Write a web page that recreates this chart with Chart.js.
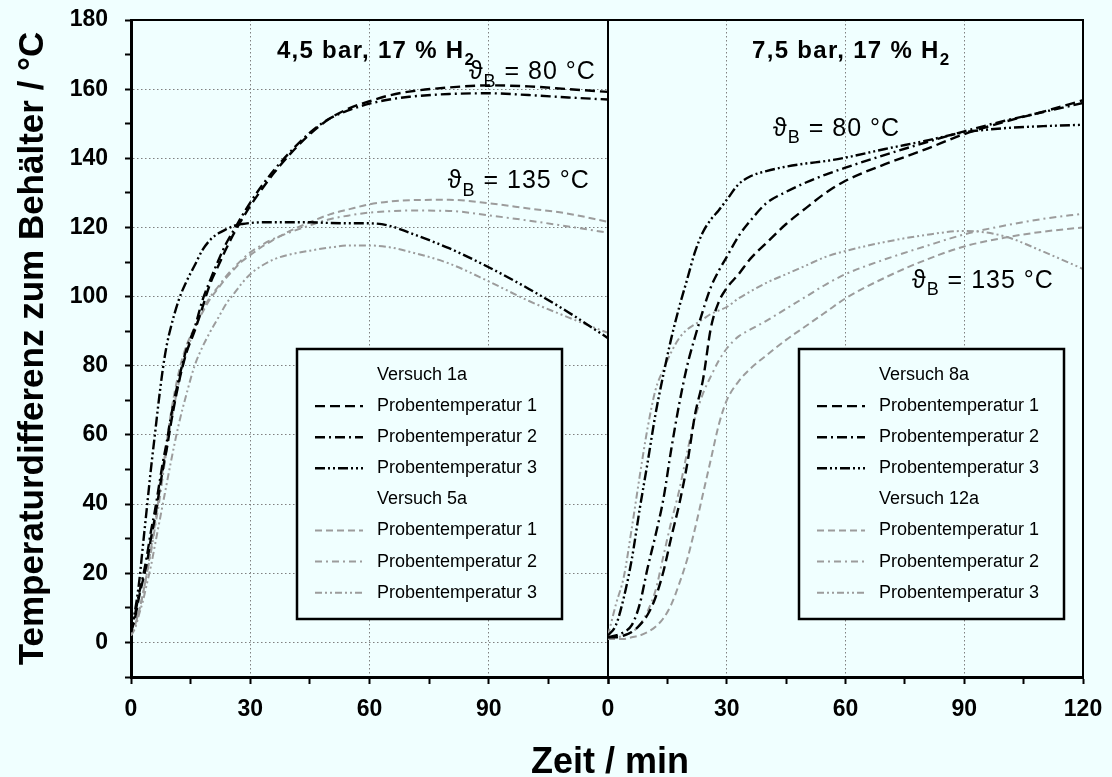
<!DOCTYPE html>
<html>
<head>
<meta charset="utf-8">
<script src="https://cdn.jsdelivr.net/npm/chart.js@4.4.0/dist/chart.umd.min.js"></script>
<style>
  html, body { margin: 0; padding: 0; background: #f0ffff; }
  body { width: 1112px; height: 777px; position: relative; overflow: hidden; }
  #cl { position: absolute; left: 0; top: 0; }
  #cr { position: absolute; left: 590px; top: 0; }
  #xt { position: absolute; left: 410px; top: 740px; width: 400px; text-align: center;
        font: bold 36px "Liberation Sans", Arial, sans-serif; line-height: 42px; color: #000; }
</style>
</head>
<body>
<canvas id="cl" width="614" height="777"></canvas>
<canvas id="cr" width="522" height="777"></canvas>
<div id="xt">Zeit / min</div>
<script>
// Zeit in min, Werte in °C (Temperaturdifferenz zum Behälter)
const zeitL = [0,1,2,3,4,5,6,7,8,9,10,12,14,16,18,20,22,24,26,28,30,33,36,40,45,50,55,60,65,70,80,90,100,110,120]
const v1aP1 = [3,7,13,18,23,30,36,43,50,56,63,75,84,90,97,104,109,114,118.5,122.5,126.2,131.2,135.8,141.2,147,151.5,154.5,156.5,158.2,159.3,160.5,161.1,160.8,160,159.2]
const v1aP2 = [3,8,14,19,25,32,38,45,52,58,65,76,85,91,99,105,110.5,115.5,119.5,123.5,127.2,132.2,136.6,141.8,147.4,151.5,154,155.8,157,157.8,158.6,158.8,158.3,157.6,157]
const v1aP3 = [3,9,17,28,39,50,60,70,79,86,91,99,104.5,109,113.5,116.5,118.3,119.5,120.5,121,121.3,121.5,121.5,121.5,121.5,121.3,121.2,121.2,120.5,118.5,114,108.5,102.3,95.5,88]
const v5aP1 = [2,5,9,14,20,27,34,42,50,58,66,78,86,91,95.5,99.5,102.5,105.5,108,110.3,112,114.5,116.5,119,121.5,123.8,125.3,126.7,127.5,127.9,128,127,125.5,124,121.6]
const v5aP2 = [2,5,9,14,20,26,33,40,48,56,63,75,84,90.5,96,100,103,106,108.5,110.8,112.8,115,116.8,118.6,120.6,122.4,123.5,124.3,124.7,124.9,124.8,123.5,122,120.3,118.5]
const v5aP3 = [2,4,8,12,17,22,28,34,40,46,52,63,72,80,85.5,90,94,98,101,104,106.5,109,110.8,112.2,113.3,114.2,114.8,114.8,114.3,113,109.6,104.4,98.8,94,89.5]

const zeitR  = [0,2,4,6,8,10,12,14,16,18,20,22,24,26,28,30,33,36,40,45,50,55,60,70,80,90,100,110,120]
const v8aP1  = [1.5,1.5,2,3,5,8,13,20.5,30.5,40,51.5,66,76,91,98.5,102.5,106.5,111,115.5,121,125.6,130,133.5,138.3,142.5,147,150.5,153.5,156.8]
const v8aP2  = [1.5,2,3,5,11,21.5,31,41.5,56,69,80,88.4,96,102.8,107.5,111.5,117.5,122,127,130.3,133,135.3,137.3,141,144.5,147.8,150.8,153.4,156]
const v8aP3  = [2,5,13,24,38.5,52,66,77.5,88,97,105,113,118.7,122.3,125,128,132.5,134.8,136.3,137.6,138.5,139.2,140.2,142.7,145,147.5,148.7,149.3,149.7]
const v12aP1 = [1,1,1,1.5,2,3,4.5,7,11,17,24,33,43,53,63,70,75.5,79.2,83,87.5,91.5,95.5,99.5,105.5,110.5,114.5,117,118.8,120]
const v12aP2 = [1.5,1.5,2,3,5,9,15,25,35,44,55,65,72,77,81.5,85,88.5,90.5,93,96.5,100,103.5,106.5,110.8,114.5,118,120.5,122.5,124]
const v12aP3 = [2,11,19,33,48,62,73,79,84,88,90.5,92,93.5,95,96,97,99.5,101.5,104,106.5,109,111.5,113.2,115.8,117.8,119,117.5,113,108]

const probeLabels = ['Probentemperatur 1', 'Probentemperatur 2', 'Probentemperatur 3']
const yTicks = { min: -10, max: 180, step: 10, labelStep: 20 }
const xTicks = { min: 0, max: 120, step: 15, labelStep: 30 }

const FONT  = '"Liberation Sans", Arial, Helvetica, sans-serif'
const BG    = '#f0ffff'
const GRIDC = '#808080'
const BLACK = '#000000'
const GRAY  = '#9c9c9c'
const DASH  = [[10, 5], [10, 4, 2, 4], [10, 3, 2, 3, 2, 3]]
const GDASH = [[7, 4], [7, 4, 2, 4], [7, 3, 2, 3, 2, 3]]

function series(label, t, v, gray, k) {
  return {
    label,
    data: t.map((x, i) => ({ x, y: v[i] })),
    borderColor: gray ? GRAY : BLACK,
    borderWidth: gray ? 2 : 2.4,
    borderDash: gray ? GDASH[k] : DASH[k],
    pointRadius: 0,
    fill: false,
    cubicInterpolationMode: 'monotone',
  }
}

// rahmen oben + rechts (links/unten kommen von den Achsen)
const framePlugin = {
  id: 'frame',
  afterDatasetsDraw(chart) {
    const { ctx, chartArea: a } = chart
    ctx.save()
    ctx.strokeStyle = BLACK
    ctx.lineWidth = 2
    ctx.beginPath()
    ctx.moveTo(a.left, a.top)
    ctx.lineTo(a.right, a.top)
    ctx.lineTo(a.right, a.bottom + 1)
    ctx.stroke()
    ctx.restore()
  },
}

function drawRich(ctx, x, y, runs, size, bold, ls) {
  let cx = x
  ctx.letterSpacing = (ls || 0) + 'px'
  for (const r of runs) {
    const fs = r.sub ? Math.round(size * 0.72) : size
    ctx.font = (bold ? 'bold ' : '') + fs + 'px ' + FONT
    ctx.fillText(r.t, cx, y + (r.sub ? size * 0.3 : 0))
    cx += ctx.measureText(r.t).width
  }
  ctx.letterSpacing = '0px'
}

function notesPlugin(items) {
  return {
    id: 'notes',
    afterDraw(chart) {
      const { ctx, scales } = chart
      ctx.save()
      ctx.fillStyle = BLACK
      ctx.textBaseline = 'alphabetic'
      ctx.textAlign = 'left'
      for (const n of items) {
        drawRich(ctx, scales.x.getPixelForValue(n.x), scales.y.getPixelForValue(n.y), n.runs, n.size, n.bold, n.ls)
      }
      ctx.restore()
    },
  }
}

function legendPlugin(box) {
  return {
    id: 'boxlegend',
    afterDraw(chart) {
      const { ctx, chartArea: a } = chart
      const x0 = a.left + box.dx, y0 = a.top + box.dy
      ctx.save()
      ctx.fillStyle = BG
      ctx.fillRect(x0, y0, box.w, box.h)
      ctx.strokeStyle = BLACK
      ctx.lineWidth = 2.5
      ctx.strokeRect(x0, y0, box.w, box.h)
      ctx.font = '18px ' + FONT
      ctx.textBaseline = 'middle'
      ctx.fillStyle = BLACK
      let row = 0
      for (const g of box.groups) {
        ctx.fillText(g.title, x0 + 80, y0 + 26 + row * 31.1)
        row++
        for (const idx of g.sets) {
          const ds = chart.data.datasets[idx]
          const yy = y0 + 26 + row * 31.1
          ctx.save()
          ctx.strokeStyle = ds.borderColor
          ctx.lineWidth = ds.borderWidth
          ctx.setLineDash(ds.borderDash)
          ctx.beginPath()
          ctx.moveTo(x0 + 18, yy)
          ctx.lineTo(x0 + 66, yy)
          ctx.stroke()
          ctx.restore()
          ctx.fillText(ds.label, x0 + 80, yy)
          row++
        }
      }
      ctx.restore()
    },
  }
}

function gridColor(step, lo, hi) {
  return c => {
    const v = c.tick ? c.tick.value : NaN
    return (v % step === 0 && v > lo && v < hi) ? GRIDC : 'rgba(0,0,0,0)'
  }
}

function makeOptions(isLeft, xLabels) {
  return {
    responsive: false,
    animation: false,
    layout: { padding: isLeft ? { left: 0, right: 6, top: 20, bottom: 40 } : { left: 18, right: 29, top: 20, bottom: 40 } },
    plugins: { legend: { display: false }, tooltip: { enabled: false } },
    scales: {
      x: {
        type: 'linear',
        min: xTicks.min, max: xTicks.max,
        afterFit: s => { s.height = 60; s.paddingLeft = 0; s.paddingRight = 0 },
        afterBuildTicks: s => {
          s.ticks = []
          for (let v = xTicks.min; v <= xTicks.max; v += xTicks.step) s.ticks.push({ value: v })
        },
        ticks: {
          autoSkip: false, maxRotation: 0, padding: 12, color: BLACK,
          font: { family: FONT, size: 23, weight: 'bold' },
          callback: v => xLabels(v),
        },
        grid: { color: gridColor(xTicks.labelStep, xTicks.min, xTicks.max), lineWidth: 1, tickLength: 7, tickColor: BLACK, tickWidth: 2 },
        border: { display: true, color: BLACK, width: 3, dash: [1.5, 2.5] },
      },
      y: {
        type: 'linear',
        display: isLeft,
        min: yTicks.min, max: yTicks.max,
        afterFit: s => { s.width = isLeft ? 131 : 0; s.paddingTop = 0; s.paddingBottom = 0 },
        afterBuildTicks: s => {
          s.ticks = []
          for (let v = yTicks.min; v <= yTicks.max; v += yTicks.step) s.ticks.push({ value: v })
        },
        ticks: {
          autoSkip: false, padding: 17, color: BLACK,
          font: { family: FONT, size: 23, weight: 'bold' },
          callback: v => (v % yTicks.labelStep === 0 && v >= 0) ? v : '',
        },
        grid: { color: gridColor(yTicks.labelStep, yTicks.min, yTicks.max), lineWidth: 1, tickLength: 6, tickColor: BLACK, tickWidth: 2 },
        border: { display: true, color: BLACK, width: 3, dash: [1.5, 2.5] },
        title: {
          display: true, text: 'Temperaturdifferenz zum Behälter / °C', color: BLACK,
          font: { family: FONT, size: 35, weight: 'bold' }, padding: { top: 12, bottom: 0 },
        },
      },
    },
  }
}

new Chart(document.getElementById('cl'), {
  type: 'line',
  data: {
    datasets: [
      series(probeLabels[0], zeitL, v1aP1, false, 0),
      series(probeLabels[1], zeitL, v1aP2, false, 1),
      series(probeLabels[2], zeitL, v1aP3, false, 2),
      series(probeLabels[0], zeitL, v5aP1, true, 0),
      series(probeLabels[1], zeitL, v5aP2, true, 1),
      series(probeLabels[2], zeitL, v5aP3, true, 2),
    ],
  },
  options: makeOptions(true, v => (v % 30 === 0 && v < 120) ? v : ''),
  plugins: [
    framePlugin,
    notesPlugin([
      { x: 36.7, y: 169, size: 24, bold: true, ls: 1.3, runs: [{ t: '4,5 bar, 17 % H' }, { t: '2', sub: true }] },
      { x: 85, y: 162.8, size: 25, ls: 1, runs: [{ t: 'ϑ' }, { t: 'B', sub: true }, { t: ' = 80 °C' }] },
      { x: 79.7, y: 131.4, size: 25, ls: 1, runs: [{ t: 'ϑ' }, { t: 'B', sub: true }, { t: ' = 135 °C' }] },
    ]),
    legendPlugin({ dx: 166, dy: 329, w: 265, h: 270, groups: [
      { title: 'Versuch 1a', sets: [0, 1, 2] },
      { title: 'Versuch 5a', sets: [3, 4, 5] },
    ] }),
  ],
})

new Chart(document.getElementById('cr'), {
  type: 'line',
  data: {
    datasets: [
      series(probeLabels[0], zeitR, v8aP1, false, 0),
      series(probeLabels[1], zeitR, v8aP2, false, 1),
      series(probeLabels[2], zeitR, v8aP3, false, 2),
      series(probeLabels[0], zeitR, v12aP1, true, 0),
      series(probeLabels[1], zeitR, v12aP2, true, 1),
      series(probeLabels[2], zeitR, v12aP3, true, 2),
    ],
  },
  options: makeOptions(false, v => (v % 30 === 0) ? v : ''),
  plugins: [
    framePlugin,
    notesPlugin([
      { x: 36.4, y: 169, size: 24, bold: true, ls: 1.3, runs: [{ t: '7,5 bar, 17 % H' }, { t: '2', sub: true }] },
      { x: 41.7, y: 146.5, size: 25, ls: 1, runs: [{ t: 'ϑ' }, { t: 'B', sub: true }, { t: ' = 80 °C' }] },
      { x: 76.8, y: 102.6, size: 25, ls: 1, runs: [{ t: 'ϑ' }, { t: 'B', sub: true }, { t: ' = 135 °C' }] },
    ]),
    legendPlugin({ dx: 191, dy: 329, w: 265, h: 270, groups: [
      { title: 'Versuch 8a', sets: [0, 1, 2] },
      { title: 'Versuch 12a', sets: [3, 4, 5] },
    ] }),
  ],
})
</script>
</body>
</html>
